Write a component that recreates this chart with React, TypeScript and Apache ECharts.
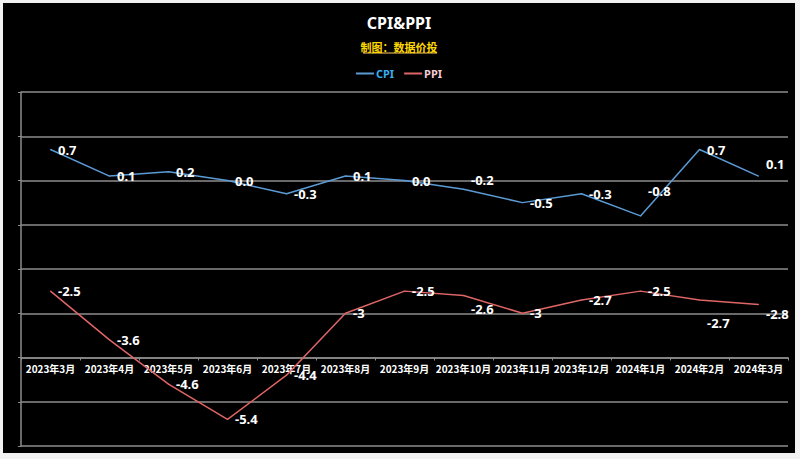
import React, { useEffect, useRef } from "react";
import * as echarts from "echarts";

const categories = [
  "2023年3月", "2023年4月", "2023年5月", "2023年6月", "2023年7月", "2023年8月",
  "2023年9月", "2023年10月", "2023年11月", "2023年12月", "2024年1月", "2024年2月", "2024年3月",
];
const cpiValues = [0.7, 0.1, 0.2, 0.0, -0.3, 0.1, 0.0, -0.2, -0.5, -0.3, -0.8, 0.7, 0.1];
const ppiValues = [-2.5, -3.6, -4.6, -5.4, -4.4, -3.0, -2.5, -2.6, -3.0, -2.7, -2.5, -2.7, -2.8];
const cpiLabels = ["0.7", "0.1", "0.2", "0.0", "-0.3", "0.1", "0.0", "-0.2", "-0.5", "-0.3", "-0.8", "0.7", "0.1"];
const ppiLabels = ["-2.5", "-3.6", "-4.6", "-5.4", "-4.4", "-3", "-2.5", "-2.6", "-3", "-2.7", "-2.5", "-2.7", "-2.8"];

// label vertical shifts (style only)
const cpiLabelShift: Record<number, number> = { 7: -9, 10: -25, 12: -12 };
const ppiLabelShift: Record<number, number> = { 7: 13, 11: 23, 12: 10 };

const CPI_COLOR = "#5b9bd5";
const PPI_COLOR = "#e06666";

export default function App() {
  const ref = useRef<HTMLDivElement>(null);
  useEffect(() => {
    if (!ref.current) return;
    const chart = echarts.init(ref.current, undefined, { renderer: "svg" });
    const labelStyle = {
      show: true,
      position: "right" as const,
      distance: 7,
      color: "#ffffff",
      fontWeight: "bold" as const,
      fontSize: 13,
      fontFamily: "Noto Sans, sans-serif",
    };
    const mk = (vals: number[], labels: string[]) =>
      vals.map((v, i) => ({
        value: v,
        label: { ...labelStyle, formatter: () => labels[i] },
      }));
    const layoutFor = (shift: Record<number, number>) => (p: any) => ({
      dy: shift[p.dataIndex] || 0,
      hideOverlap: false,
    });
    chart.setOption({
      animation: false,
      backgroundColor: "#000000",
      title: [
        {
          text: "CPI&PPI",
          left: "center",
          top: 7,
          textStyle: { color: "#ffffff", fontSize: 16, fontWeight: "bold", fontFamily: "Noto Sans, sans-serif" },
        },
        {
          text: "制图：数据价投",
          left: "center",
          top: 33,
          textStyle: { color: "#ffd700", fontSize: 11, fontWeight: "bold", fontFamily: "Noto Sans CJK SC" },
        },
      ],
      graphic: [
        {
          type: "line",
          shape: { x1: 360, y1: 50, x2: 434, y2: 50 },
          style: { stroke: "#b08d3c", lineWidth: 1.5 },
        },
      ],
      legend: {
        top: 60,
        left: "center",
        itemWidth: 18,
        itemHeight: 2,
        itemGap: 10,
        icon: "rect",
        data: [
          { name: "CPI", textStyle: { color: "#3aaef0" } },
          { name: "PPI", textStyle: { color: "#f6cdd5" } },
        ],
        textStyle: { fontSize: 11, fontWeight: "bold", fontFamily: "Noto Sans, sans-serif", padding: [0, 0, 0, -3] },
      },
      grid: { left: 18, top: 89, right: 7, bottom: 7 },
      xAxis: {
        type: "category",
        data: categories,
        boundaryGap: true,
        position: "bottom",
        offset: -88.5,
        axisLine: { show: true, onZero: false, lineStyle: { color: "#8c8c8c", width: 1.5 } },
        axisTick: { show: true, length: 3, lineStyle: { color: "#8c8c8c" } },
        axisLabel: {
          color: "#ffffff",
          fontSize: 10,
          fontWeight: "bold",
          fontFamily: "Noto Sans CJK SC",
          margin: 6,
          interval: 0,
        },
        splitLine: { show: false },
      },
      yAxis: {
        type: "value",
        min: -6,
        max: 2,
        interval: 1,
        axisLine: { show: true, lineStyle: { color: "#8c8c8c", width: 1.5 } },
        axisTick: { show: true, length: 3, lineStyle: { color: "#8c8c8c" } },
        axisLabel: { show: false },
        splitLine: { show: true, lineStyle: { color: "#8c8c8c", width: 1.5 } },
      },
      series: [
        {
          name: "CPI",
          type: "line",
          data: mk(cpiValues, cpiLabels),
          symbol: "circle",
          symbolSize: 1,
          showSymbol: true,
          itemStyle: { color: CPI_COLOR },
          color: CPI_COLOR,
          lineStyle: { color: CPI_COLOR, width: 1.5 },
          label: labelStyle,
          labelLayout: layoutFor(cpiLabelShift),
        },
        {
          name: "PPI",
          type: "line",
          data: mk(ppiValues, ppiLabels),
          symbol: "circle",
          symbolSize: 1,
          showSymbol: true,
          itemStyle: { color: PPI_COLOR },
          color: PPI_COLOR,
          lineStyle: { color: PPI_COLOR, width: 1.5 },
          label: labelStyle,
          labelLayout: layoutFor(ppiLabelShift),
        },
      ],
    });
    return () => chart.dispose();
  }, []);
  return (
    <div
      style={{
        position: "fixed",
        left: 0,
        top: 0,
        width: 800,
        height: 459,
        background: "#f2f2f2",
      }}
    >
      <div
        ref={ref}
        style={{ position: "absolute", left: 3, top: 3, width: 792, height: 450 }}
      />
    </div>
  );
}
